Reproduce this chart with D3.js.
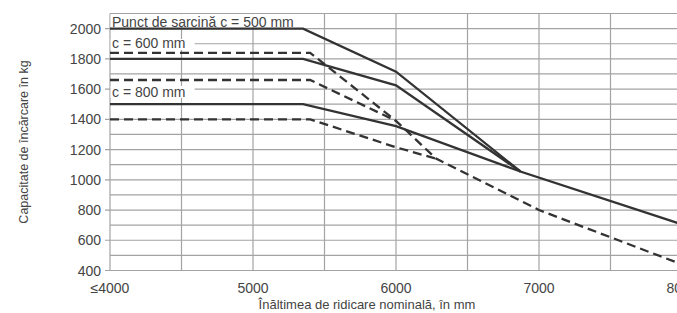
<!DOCTYPE html>
<html>
<head>
<meta charset="utf-8">
<script src="https://cdn.jsdelivr.net/npm/d3@7"></script>
<style>
  body { margin: 0; background: #fff; }
  text { font-family: "Liberation Sans", Arial, sans-serif; fill: #444; }
</style>
</head>
<body>
<div class="chart"></div>
<script>
// heights (mm) and capacities (kg)
// curves that merge into another one stop at the meeting point
var c500 = [[4000, 2000], [5350, 2000], [6000, 1715], [6870, 1055], [8000, 705]]
var c600 = [[4000, 1800], [5350, 1800], [6000, 1625], [6870, 1055]]
var c800 = [[4000, 1500], [5350, 1500], [6000, 1355], [6870, 1055]]
var d500 = [[4000, 1840], [5400, 1840], [6000, 1390], [6280, 1140], [7000, 800], [8000, 440]]
var d600 = [[4000, 1660], [5400, 1660], [6000, 1390]]
var d800 = [[4000, 1400], [5400, 1400], [6000, 1215], [6280, 1140]]

var xTicks = [4000, 5000, 6000, 7000, 8000]
var xTickLabels = ['≤4000', '5000', '6000', '7000', '8000']
var yTicks = [400, 600, 800, 1000, 1200, 1400, 1600, 1800, 2000]
var labels = ['Punct de sarcină c = 500 mm', 'c = 600 mm', 'c = 800 mm']

var width = 677
var height = 313

var svg = d3.select('.chart')
    .append('svg')
    .attr('width', width)
    .attr('height', height)

var xScale = d3.scaleLinear()
    .domain([4000, 8000])
    .range([110, 682])

var yScale = d3.scaleLinear()
    .domain([400, 2100])
    .range([270.5, 13.5])

// grid
var grid = svg.append('g')
    .attr('stroke', '#a3a3a3')
    .attr('stroke-width', 1.2)

grid.selectAll('.hgrid')
    .data(d3.range(400, 2101, 100))
    .enter()
    .append('line')
    .attr('x1', function (d) { return d % 200 == 0 && d <= 2000 ? 105 : 110 })
    .attr('x2', 682)
    .attr('y1', function (d) { return yScale(d) })
    .attr('y2', function (d) { return yScale(d) })

grid.selectAll('.vgrid')
    .data(d3.range(4000, 8001, 500))
    .enter()
    .append('line')
    .attr('x1', function (d) { return xScale(d) })
    .attr('x2', function (d) { return xScale(d) })
    .attr('y1', yScale(2100))
    .attr('y2', yScale(400))

// white boxes behind the labels
var labelPos = [
    {text: labels[0], y: 26.5, w: 194, top: 14.2, h: 13},
    {text: labels[1], y: 48, w: 84, top: 39, h: 11},
    {text: labels[2], y: 97, w: 84, top: 86, h: 12}
]

svg.selectAll('.lblbox')
    .data(labelPos)
    .enter()
    .append('rect')
    .attr('x', 110.6)
    .attr('y', function (d) { return d.top })
    .attr('width', function (d) { return d.w })
    .attr('height', function (d) { return d.h })
    .attr('fill', '#fff')

// curves
var line = d3.line()
    .x(function (d) { return xScale(d[0]) })
    .y(function (d) { return yScale(d[1]) })

var series = [
    {data: c500, dash: null},
    {data: c600, dash: null},
    {data: c800, dash: null},
    {data: d500, dash: '9,5'},
    {data: d600, dash: '9,5'},
    {data: d800, dash: '9,5'}
]

svg.selectAll('.curve')
    .data(series)
    .enter()
    .append('path')
    .attr('class', 'curve')
    .attr('d', function (d) { return line(d.data) })
    .attr('fill', 'none')
    .attr('stroke', '#333')
    .attr('stroke-width', 2.3)
    .attr('stroke-dasharray', function (d) { return d.dash })

svg.selectAll('.lbl')
    .data(labelPos)
    .enter()
    .append('text')
    .attr('x', 112)
    .attr('y', function (d) { return d.y })
    .style('font-size', '14px')
    .text(function (d) { return d.text })

// axis labels
svg.selectAll('.ylab')
    .data(yTicks)
    .enter()
    .append('text')
    .attr('x', 101)
    .attr('y', function (d) { return yScale(d) + 5 })
    .attr('text-anchor', 'end')
    .style('font-size', '14px')
    .text(function (d) { return d })

svg.selectAll('.xlab')
    .data(xTicks)
    .enter()
    .append('text')
    .attr('x', function (d) { return xScale(d) })
    .attr('y', 293)
    .attr('text-anchor', 'middle')
    .style('font-size', '14px')
    .text(function (d, i) { return xTickLabels[i] })

svg.append('text')
    .attr('x', 367)
    .attr('y', 309)
    .attr('text-anchor', 'middle')
    .style('font-size', '13px')
    .text('Înăltimea de ridicare nominală, în mm')

svg.append('text')
    .attr('transform', 'translate(28,142) rotate(-90)')
    .attr('text-anchor', 'middle')
    .style('font-size', '12.5px')
    .text('Capacitate de încărcare în kg')
</script>
</body>
</html>
